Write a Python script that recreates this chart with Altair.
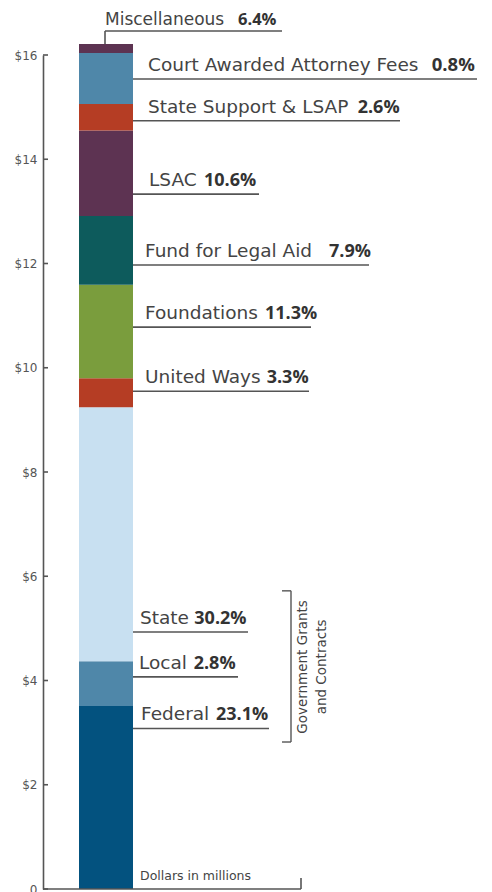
import altair as alt
import pandas as pd

# ---- data (dollars in millions) ----
categories = ["Federal", "Local", "State", "United Ways", "Foundations",
              "Fund for Legal Aid", "LSAC", "State Support & LSAP",
              "Court Awarded Attorney Fees", "Miscellaneous"]
amounts = [3.51, 0.86, 4.87, 0.56, 1.79, 1.32, 1.64, 0.51, 0.98, 0.17]
shares = ["23.1%", "2.8%", "30.2%", "3.3%", "11.3%", "7.9%", "10.6%", "2.6%", "0.8%", "6.4%"]
label_names = ["Federal", "Local", "State", "United Ways", "Foundations",
               "Fund for Legal Aid", "LSAC", "State Support & LSAP",
               "Court Awarded Attorney Fees", "Miscellaneous"]
tick_values = [0, 2, 4, 6, 8, 10, 12, 14, 16]
group_lines = ["Government Grants", "and Contracts"]

# ---- styles / layout ----
colors = ["#03527f", "#4f87a9", "#c8e0f1", "#b53d24", "#7a9d3d",
          "#0d5b5c", "#5d3352", "#b53d24", "#4f87a9", "#5d3352"]
label_at = [3.08, 4.07, 4.93, 9.55, 10.78, 11.97, 13.33, 14.74, 15.54, 16.46]
text_x = [98, 96, 97, 102, 102, 102, 106, 105, 105, 62]
pct_x = [173, 150.7, 151.3, 223.7, 222, 286, 161, 314.7, 388.7, 195]
line_start = [90, 90, 90, 90, 90, 90, 90, 90, 90, 62]
line_end = [226, 195, 205, 266, 268, 326, 216, 357, 434, 239]
name_size = [18.5, 18.5, 18.5, 18.5, 18.5, 18.5, 18.5, 18.5, 18.5, 17]
pct_size = [18, 18, 18, 18, 18, 18, 18, 18, 18.5, 16.5]
NAME_FONT = "DejaVu Sans"
PCT_FONT = "Open Sans"
GREY = "#555555"
TXT = "#444444"
W, H = 440, 834

df = pd.DataFrame({"category": categories, "amount": amounts,
                   "order": list(range(len(categories))), "group": "Revenue"})
lab = pd.DataFrame({"name": label_names, "share": shares, "at": label_at,
                    "tx": text_x, "px": pct_x, "x1": line_start, "x2": line_end,
                    "ns": name_size, "ps": pct_size})
total = float(sum(amounts))

yscale = alt.Scale(domain=[0, 16], nice=False, zero=True)
yaxis = alt.Axis(values=tick_values,
                 labelExpr="datum.value == 0 ? '0' : '$' + datum.value",
                 ticks=False, grid=False, domain=True, domainColor=GREY,
                 domainWidth=1.6, labelPadding=6, labelFont=NAME_FONT,
                 labelFontSize=12, labelColor=GREY, title=None)


def Y(field):
    return alt.Y(field, scale=yscale, axis=yaxis)


bar = alt.Chart(df).mark_bar().encode(
    x=alt.X("group:N", scale=alt.Scale(domain=["Revenue"], range=[36, 90],
                                        paddingInner=0, paddingOuter=0), axis=None),
    y=alt.Y("amount:Q", stack="zero", scale=yscale, axis=yaxis),
    color=alt.Color("category:N", scale=alt.Scale(domain=categories, range=colors), legend=None),
    order=alt.Order("order:Q", sort="ascending"),
)

ticks_df = pd.DataFrame({"v": tick_values})
ticks = alt.Chart(ticks_df).mark_rule(color=GREY, strokeWidth=1.6).encode(
    x=alt.value(0), x2=alt.value(5), y=Y("v:Q"),
)

base_df = pd.DataFrame({"y": [0.0], "x1": [0], "x2": [258]})
baseline = alt.Chart(base_df).mark_rule(color=GREY, strokeWidth=1.6).encode(
    x=alt.X("x1:Q", scale=None), x2="x2:Q", y=Y("y:Q"),
)
end_df = pd.DataFrame({"x": [258], "y1": [0.0], "y2": [0.21]})
endtick = alt.Chart(end_df).mark_rule(color=GREY, strokeWidth=1.6).encode(
    x=alt.X("x:Q", scale=None), y=Y("y1:Q"), y2="y2:Q",
)

lines = alt.Chart(lab).mark_rule(color=GREY, strokeWidth=1.6).encode(
    x=alt.X("x1:Q", scale=None), x2="x2:Q", y=Y("at:Q"),
)
misc_df = pd.DataFrame({"x": [62], "y1": [total], "y2": [label_at[-1]]})
misc_conn = alt.Chart(misc_df).mark_rule(color=GREY, strokeWidth=1.6).encode(
    x=alt.X("x:Q", scale=None), y=Y("y1:Q"), y2="y2:Q",
)

main_lab = lab.iloc[:-1]
misc_lab = lab.iloc[-1:]


def label_layers(data, dy):
    names = alt.Chart(data).mark_text(align="left", baseline="alphabetic", dy=dy,
                                      font=NAME_FONT, color=TXT).encode(
        x=alt.X("tx:Q", scale=None), y=Y("at:Q"), text="name:N",
        size=alt.Size("ns:Q", scale=None),
    )
    pcts = alt.Chart(data).mark_text(align="left", baseline="alphabetic", dy=dy,
                                     font=PCT_FONT, fontWeight="bold", color="#333333").encode(
        x=alt.X("px:Q", scale=None), y=Y("at:Q"), text="share:N",
        size=alt.Size("ps:Q", scale=None),
    )
    return [names, pcts]


br_v = pd.DataFrame({"x": [248], "y1": [2.82], "y2": [5.72]})
br_h = pd.DataFrame({"x1": [239, 239], "x2": [248, 248], "y": [2.82, 5.72]})
bracket_v = alt.Chart(br_v).mark_rule(color=GREY, strokeWidth=1.4).encode(
    x=alt.X("x:Q", scale=None), y=Y("y1:Q"), y2="y2:Q",
)
bracket_h = alt.Chart(br_h).mark_rule(color=GREY, strokeWidth=1.4).encode(
    x=alt.X("x1:Q", scale=None), x2="x2:Q", y=Y("y:Q"),
)
grp_df = pd.DataFrame({"t": group_lines, "x": [260, 279], "y": [4.26, 4.26]})
grp_text = alt.Chart(grp_df).mark_text(angle=270, align="center", baseline="middle",
                                       font=NAME_FONT, fontSize=13.5, color=TXT).encode(
    x=alt.X("x:Q", scale=None), y=Y("y:Q"), text="t:N",
)

note_df = pd.DataFrame({"t": ["Dollars in millions"], "x": [97], "y": [0.17]})
note = alt.Chart(note_df).mark_text(align="left", baseline="alphabetic",
                                    font=NAME_FONT, fontSize=12.5, color=TXT).encode(
    x=alt.X("x:Q", scale=None), y=Y("y:Q"), text="t:N",
)

chart = alt.layer(
    bar, ticks, baseline, endtick, lines, misc_conn,
    *label_layers(main_lab, -8), *label_layers(misc_lab, -6),
    bracket_v, bracket_h, grp_text, note,
).resolve_scale(x="independent").properties(
    width=W, height=H,
    autosize=alt.AutoSizeParams(type="none"),
    padding={"left": 35, "top": 47, "right": 0, "bottom": 3},
).configure_view(stroke=None)

chart.save("out.html", embed_options={"renderer": "svg", "actions": False})
